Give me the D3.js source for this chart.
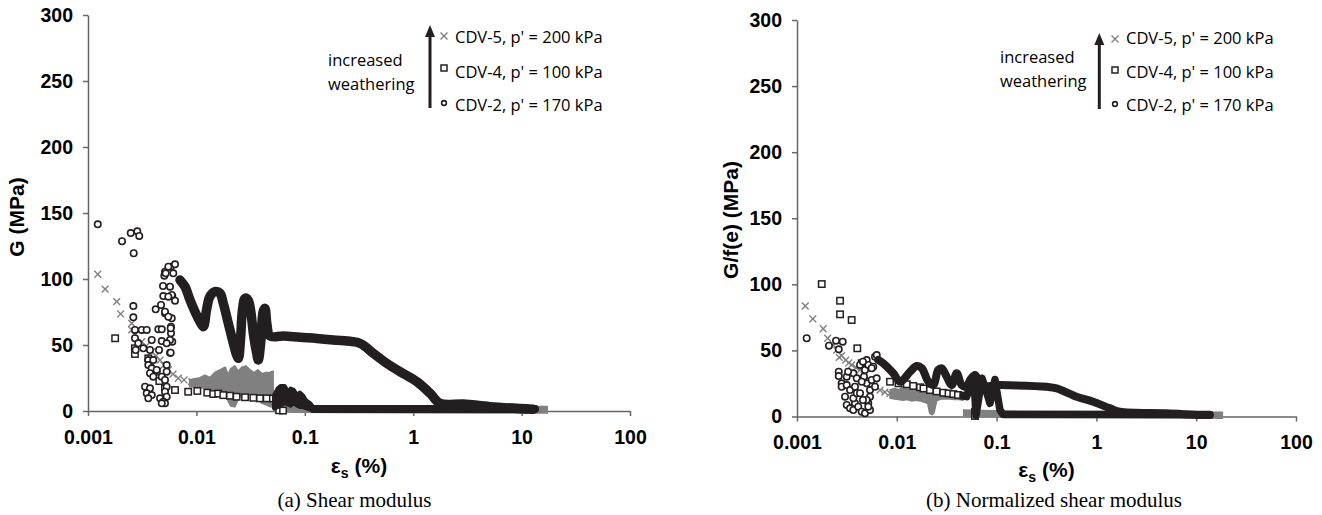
<!DOCTYPE html>
<html>
<head>
<meta charset="utf-8">
<script src="https://cdn.jsdelivr.net/npm/d3@7"></script>
<style>
  body { margin: 0; background: #fff; }
  svg { display: block; }
</style>
</head>
<body>
<svg id="chart" width="1322" height="515"></svg>
<script>
// ---------- shared axis data ----------
const xTicks = [0.001, 0.01, 0.1, 1, 10, 100];
const xTickLabels = ["0.001", "0.01", "0.1", "1", "10", "100"];
const yTicks = [0, 50, 100, 150, 200, 250, 300];
const legendLabels = ["CDV-5, p' = 200 kPa", "CDV-4, p' = 100 kPa", "CDV-2, p' = 170 kPa"];
const legendNote = ["increased", "weathering"];

// ---------- (a) shear modulus G (MPa) vs strain (%) ----------
// CDV-5: individual readings, dense scatter band [x, low, high], large-strain tail
const aCdv5Points = [[0.00123,103.6],[0.00144,92.4],[0.00184,82.8],[0.0020,73.5],[0.00253,66.4],[0.00253,61.4],
  [0.00271,57.6],[0.00313,52.5],[0.00343,49.2],[0.00387,44.9],[0.00424,41.7],[0.00462,38.6],[0.00502,34.8],
  [0.00551,31.1],[0.00608,28.0],[0.00681,24.8],[0.00769,23.5],[0.00905,22.2],[0.0101,22.0],[0.0115,21.2]];
const aCdv5Band = [[0.0087,18.5,23.5],[0.0108,18,25],[0.0120,17.5,27],[0.0133,17,25],[0.0148,16.5,29],
  [0.0165,16,31],[0.0184,14,33],[0.0196,8,27],[0.0208,4,32],[0.0226,3.3,34],[0.0242,9,30],[0.0263,13.6,33],
  [0.0286,12,34],[0.0312,13,31],[0.034,11,29],[0.037,9,31],[0.0402,6,28],[0.0437,5,29],[0.0477,3.5,29],[0.0508,3,30]];
const aCdv5Tail = [[0.0508,2.0],[0.08,1.6],[0.2,1.3],[1,1.2],[5,1.0],[17.5,1.0]];

// CDV-4
const aCdv4Points = [[0.00178,55.1],[0.00271,47.5],[0.00271,43.2],[0.0036,39.9],[0.00373,36.4],[0.0043,29.8],
  [0.00455,22.7],[0.00513,17.2],[0.00635,15.9],[0.0084,14.6],[0.0102,15.2],[0.0126,13.9],[0.0143,12.9],
  [0.0159,13.2],[0.0177,12.0],[0.0204,11.6],[0.0235,10.8],[0.0281,10.4],[0.0335,10.0],[0.0386,9.6],
  [0.0445,9.6],[0.0508,9.5],[0.058,0.5],[0.063,0.3]];
const aCdv4Band = [[0.052,2,12],[0.056,3,17],[0.060,4,19],[0.065,6,19],[0.070,5,15],[0.074,4,17],[0.079,6,16],
  [0.085,4,12],[0.090,3,14],[0.096,3,12],[0.103,2,8],[0.112,1,6],[0.122,0,2]];
const aCdv4Tail = [[0.12,1.5],[0.5,1.5],[2,1.5],[13.3,1.5]];

// CDV-2
const aCdv2Points = [[0.00123,141.4],[0.00206,128.6],[0.00248,134.8],[0.00285,136.1],[0.00297,132.6],[0.00264,119.5],
  [0.00513,105.5],[0.00583,109.3],[0.00635,111.1],[0.00506,102.5],[0.00612,104.3],[0.00492,94.7],
  [0.00495,87.1],[0.00599,87.1],[0.00635,83.6],[0.00421,77],[0.00472,80.3],[0.00262,79.5],
  [0.00513,74],[0.00592,70.2],[0.00262,71],[0.00313,61.4],[0.00271,61.4],[0.00348,61.4],
  [0.00445,61.9],[0.00479,61.9],[0.00583,63.9],[0.00583,58.9],[0.00599,52.5],[0.00271,55.1],
  [0.00291,51.3],[0.00387,53.8],[0.00479,53],[0.00324,47.5],[0.00373,46.2],[0.00452,46.2],
  [0.00275,46.2],[0.00571,44.2],[0.0036,38.6],[0.0040,38.6],[0.0036,34.8],[0.00387,32.3],
  [0.0043,31.1],[0.00532,34.8],[0.00532,29.8],[0.00373,28.6],[0.0040,26],[0.00479,26],
  [0.00513,23.5],[0.00336,18.4],[0.00373,17.2],[0.00532,18.4],[0.00513,14.6],[0.00348,13.4],
  [0.00387,12.1],[0.0036,9.6],[0.00462,9.6],[0.00532,10.8],[0.00495,7],[0.00513,5.8],[0.00479,5.8],
  [0.00551,109.3],[0.00521,104.3],[0.00571,94.2],[0.00592,87.9],[0.00551,86.6],[0.00513,75.2],
  [0.00551,71.4],[0.00579,62.7],[0.00571,53.8],[0.00532,51.3],[0.00579,44.2]];
const aCdv2Path = [[0.00706,99.2],[0.00785,94.2],[0.00873,84.1],[0.00971,75.2],[0.0108,67.6],[0.0116,63.9],
  [0.0124,76.5],[0.0133,86.6],[0.0148,90.4],[0.0165,89.2],[0.0177,81.6],[0.0197,66.4],[0.0219,51.3],
  [0.0235,42.4],[0.0244,39.9],[0.0255,53.8],[0.0266,76.5],[0.0281,85.4],[0.0299,84.1],[0.0316,76.5],
  [0.0335,58.9],[0.036,43.7],[0.0372,38.6],[0.0394,53.8],[0.0412,75],[0.0429,77.8],[0.0448,65.2],
  [0.0477,56.8],[0.0633,56.8],[0.0903,55.8],[0.129,55],[0.183,53.8],[0.323,51.3],[0.428,43.7],
  [0.57,36.1],[0.755,29.8],[1.08,22.2],[1.43,13.4],[1.77,5.8],[2.9,5.3],[5.1,3.3],[12.8,1.3]];

// ---------- (b) normalised shear modulus G/f(e) (MPa) vs strain (%) ----------
const bCdv5Points = [[0.00121,83.6],[0.00144,73.8],[0.00183,66.4],[0.00203,59.2],[0.0023,54],[0.0025,50.3],
  [0.00265,44.8],[0.0028,46],[0.00308,42.7],[0.0033,40.5],[0.00353,39],[0.0039,37],[0.00428,35.2],
  [0.0047,31],[0.00539,27.6],[0.006,24],[0.00679,20],[0.0076,18.5],[0.00855,17.6]];
const bCdv5Band = [[0.0086,14,20],[0.0095,13.5,21],[0.0104,13,20],[0.0115,12.5,22],[0.0126,13,21],[0.014,12,20],
  [0.0155,12.5,21],[0.017,12,19.5],[0.019,11,19],[0.0205,10,19],[0.0215,2.5,18],[0.0225,1.5,17],[0.0235,3,16],
  [0.025,12,19],[0.028,13.5,19],[0.031,13.5,18.8],[0.034,13.5,18.5],[0.038,13,18.5],[0.042,13,18],[0.046,12.5,18]];
const bCdv5Tail = [[0.046,2.6],[0.07,2.2],[0.12,1.8],[1,1.5],[10,1.2],[18.6,1.0]];

const bCdv4Points = [[0.00177,100.2],[0.0027,87.6],[0.0027,77.3],[0.00353,73],[0.00402,51.6],[0.00445,40.3],
  [0.00855,26.3],[0.0104,25.1],[0.0126,24.4],[0.0146,23.1],[0.0171,22.1],[0.0185,21.2],[0.0215,20],
  [0.025,19],[0.0292,18],[0.033,17.5],[0.0368,17],[0.041,16.3],[0.0464,15.7],[0.0608,3.6],[0.0608,0.4]];
const bCdv4Path = [[0.0464,15.7],[0.0502,15],[0.0542,24],[0.058,30],[0.0608,14],[0.0622,1],[0.0682,20],
  [0.0714,29],[0.0796,18],[0.0859,10],[0.0964,28],[0.1,20],[0.108,5],[0.116,1.5],[0.5,1.5],[2,1.5],[13.7,1.5]];

const bCdv2Points = [[0.00125,59.2],[0.00209,53.6],[0.00246,57.4],[0.00262,50.8],[0.00287,56.6],[0.00262,33.9],
  [0.00262,30.6],[0.0028,25.1],[0.0028,22.5],[0.00315,23.8],[0.00303,15],[0.00315,8.7],[0.0034,6.2],
  [0.00367,4.9],[0.00381,10],[0.00367,13.8],[0.0034,20],[0.00381,22.5],[0.00397,17.6],[0.00411,7.4],
  [0.0048,35.2],[0.00499,42.7],[0.00518,39],[0.00469,30.1],[0.00499,25.1],[0.00445,3.6],[0.0048,2.4],
  [0.00539,4.9],[0.00518,10],[0.00539,15],[0.00539,20],[0.0056,27.6],[0.00581,37.7],[0.00605,45.2],
  [0.00629,46.5],[0.0056,36.5],[0.00629,28.9],[0.00605,22.5],[0.00499,12.5],[0.00518,7.4],
  [0.00428,39],[0.00458,41.5],[0.00367,32.7],[0.00397,28.9],[0.00445,26.3],[0.00428,17.6],[0.00458,12.5],
  [0.00315,30.1],[0.00325,33.9]];
const bCdv2Path = [[0.00653,42.7],[0.00732,40.2],[0.00922,32.7],[0.0108,26.3],[0.0136,33.9],[0.0158,38.2],
  [0.0178,36.5],[0.0207,26.3],[0.0232,23.8],[0.026,35.2],[0.0282,36.5],[0.0316,30.1],[0.0355,23.8],
  [0.0398,32.7],[0.0447,23.8],[0.05,22.5],[0.0542,27.6],[0.0608,31.4],[0.0682,25.1],[0.0796,23],
  [0.0964,23.8],[0.108,23.8],[0.318,22.5],[0.40,21.3],[0.635,15],[0.93,11.2],[1.37,6.2],[1.72,3.6],
  [5.06,2.4],[10.9,1.1],[13.7,1.1]];

// ---------- styling ----------
const GREY = "#808080";
const DARK = "#231f20";
const AXIS = "#666666";

const svg = d3.select("#chart");

const panels = [
  {
    x0: 88, x1: 630, yTop: 15, yBot: 411,
    yTitle: "G (MPa)", yTitleX: 24, yTitleY: 217,
    xTitleY: 473, caption: "(a) Shear modulus", capX: 354.5,
    cdv5Points: aCdv5Points, cdv5Band: aCdv5Band, cdv5Tail: aCdv5Tail,
    cdv4Points: aCdv4Points, cdv4Band: aCdv4Band, cdv4Path: aCdv4Tail,
    cdv2Points: aCdv2Points, cdv2Path: aCdv2Path, trailW: 9.5, tailW: 8,
    legend: { arrowX: 430, headTop: 25, shaftBot: 108, noteX: 328, noteY: [65.7, 90],
              markX: 444, markY: [36, 68, 103], labelX: 455, labelY: [42.5, 77.5, 111] }
  },
  {
    x0: 797, x1: 1296, yTop: 20, yBot: 416.5,
    yTitle: "G/f(e) (MPa)", yTitleX: 738, yTitleY: 220,
    xTitleY: 477, caption: "(b) Normalized shear modulus", capX: 1054,
    cdv5Points: bCdv5Points, cdv5Band: bCdv5Band, cdv5Tail: bCdv5Tail,
    cdv4Points: bCdv4Points, cdv4Band: null, cdv4Path: bCdv4Path,
    cdv2Points: bCdv2Points, cdv2Path: bCdv2Path, trailW: 8, tailW: 7.5,
    legend: { arrowX: 1099.3, headTop: 33, shaftBot: 109, noteX: 1000, noteY: [62.7, 87.3],
              markX: 1115, markY: [39, 70, 104], labelX: 1126, labelY: [44, 78.3, 111] }
  }
];

function crossMark(sel, s) {
  sel.append("path").attr("d", `M${-s},${-s}L${s},${s}M${-s},${s}L${s},${-s}`)
    .attr("stroke", GREY).attr("stroke-width", 1.4).attr("fill", "none");
}
function squareMark(sel, s) {
  sel.append("rect").attr("x", -s).attr("y", -s).attr("width", 2 * s).attr("height", 2 * s)
    .attr("fill", "#fff").attr("stroke", DARK).attr("stroke-width", 1.5);
}
function circleMark(sel, r) {
  sel.append("circle").attr("r", r).attr("fill", "#fff").attr("stroke", DARK).attr("stroke-width", 1.6);
}

function drawPanel(p) {
  const g = svg.append("g");
  const x = d3.scaleLog().domain([0.001, 100]).range([p.x0, p.x1]);
  const y = d3.scaleLinear().domain([0, 300]).range([p.yBot, p.yTop]);

  // axes
  const yAxis = d3.axisLeft(y).tickValues(yTicks).tickSizeInner(5).tickSizeOuter(0).tickPadding(10)
    .tickFormat(d3.format("d"));
  const xAxis = d3.axisBottom(x).tickValues(xTicks).tickSizeInner(5).tickSizeOuter(0).tickPadding(14)
    .tickFormat((d, i) => xTickLabels[i]);

  const ya = g.append("g").attr("transform", `translate(${p.x0},0)`).call(yAxis);
  const xa = g.append("g").attr("transform", `translate(0,${p.yBot})`).call(xAxis);
  [ya, xa].forEach(a => {
    a.select(".domain").attr("stroke", AXIS).attr("stroke-width", 1.5);
    a.selectAll(".tick line").attr("stroke", AXIS).attr("stroke-width", 1.5);
    a.selectAll(".tick text").attr("fill", "#000")
      .style("font-family", "'Liberation Sans', Arial, sans-serif")
      .style("font-size", "19.5px").style("font-weight", "bold");
  });

  const line = d3.line().x(d => x(d[0])).y(d => y(d[1]));
  const smooth = d3.line().x(d => x(d[0])).y(d => y(d[1])).curve(d3.curveCatmullRom.alpha(0.5));
  const area = d3.area().x(d => x(d[0])).y0(d => y(d[1])).y1(d => y(d[2]));

  // CDV-5 (grey crosses)
  g.append("path").datum(p.cdv5Band).attr("d", area).attr("fill", GREY)
    .attr("stroke", GREY).attr("stroke-width", 2).attr("stroke-linejoin", "round");
  g.append("path").datum(p.cdv5Tail).attr("d", line).attr("fill", "none")
    .attr("stroke", GREY).attr("stroke-width", p.tailW).attr("stroke-linejoin", "round");
  g.append("g").selectAll("g").data(p.cdv5Points).join("g")
    .attr("transform", d => `translate(${x(d[0])},${y(d[1])})`)
    .each(function () { crossMark(d3.select(this), 3.4); });

  // CDV-4 (open squares)
  g.append("g").selectAll("g").data(p.cdv4Points).join("g")
    .attr("transform", d => `translate(${x(d[0])},${y(d[1])})`)
    .each(function () { squareMark(d3.select(this), 3.2); });
  if (p.cdv4Band) {
    g.append("path").datum(p.cdv4Band).attr("d", area).attr("fill", DARK)
      .attr("stroke", DARK).attr("stroke-width", 4).attr("stroke-linejoin", "round");
  }
  g.append("path").datum(p.cdv4Path).attr("d", line).attr("fill", "none")
    .attr("stroke", DARK).attr("stroke-width", p.tailW).attr("stroke-linejoin", "round")
    .attr("stroke-linecap", "round");

  // CDV-2 (open circles)
  g.append("g").selectAll("g").data(p.cdv2Points).join("g")
    .attr("transform", d => `translate(${x(d[0])},${y(d[1])})`)
    .each(function () { circleMark(d3.select(this), 3.2); });
  g.append("path").datum(p.cdv2Path).attr("d", smooth).attr("fill", "none")
    .attr("stroke", DARK).attr("stroke-width", p.trailW).attr("stroke-linejoin", "round")
    .attr("stroke-linecap", "round");

  // axis titles
  g.append("text")
    .attr("transform", `translate(${p.yTitleX},${p.yTitleY}) rotate(-90)`)
    .attr("text-anchor", "middle")
    .style("font-family", "'Liberation Sans', Arial, sans-serif")
    .style("font-size", "21px").style("font-weight", "bold")
    .text(p.yTitle);

  const xt = g.append("text")
    .attr("x", (p.x0 + p.x1) / 2).attr("y", p.xTitleY)
    .attr("text-anchor", "middle")
    .style("font-family", "'Liberation Sans', Arial, sans-serif")
    .style("font-size", "21px").style("font-weight", "bold");
  xt.append("tspan").text("ε");
  xt.append("tspan").attr("dy", 5).style("font-size", "14px").text("s");
  xt.append("tspan").attr("dy", -5).text(" (%)");

  // caption
  g.append("text")
    .attr("x", p.capX).attr("y", 507).attr("text-anchor", "middle")
    .style("font-family", "'Liberation Serif', 'Times New Roman', serif")
    .style("font-size", "21px")
    .text(p.caption);

  // legend
  const L = p.legend;
  const lg = g.append("g").style("font-family", "'Open Sans', sans-serif").style("font-size", "16.5px");
  lg.append("line").attr("x1", L.arrowX).attr("x2", L.arrowX)
    .attr("y1", L.shaftBot).attr("y2", L.headTop + 10)
    .attr("stroke", DARK).attr("stroke-width", 3);
  lg.append("path")
    .attr("d", `M${L.arrowX - 5},${L.headTop + 12}L${L.arrowX},${L.headTop}L${L.arrowX + 5},${L.headTop + 12}Z`)
    .attr("fill", DARK);
  legendNote.forEach((t, i) => {
    lg.append("text").attr("x", L.noteX).attr("y", L.noteY[i]).attr("fill", "#000").text(t);
  });
  const markers = [s => crossMark(s, 3.5), s => squareMark(s, 3), s => circleMark(s, 2.4)];
  legendLabels.forEach((t, i) => {
    const m = lg.append("g").attr("transform", `translate(${L.markX},${L.markY[i]})`);
    markers[i](m);
    lg.append("text").attr("x", L.labelX).attr("y", L.labelY[i]).attr("fill", "#000").text(t);
  });
}

panels.forEach(drawPanel);
</script>
</body>
</html>
